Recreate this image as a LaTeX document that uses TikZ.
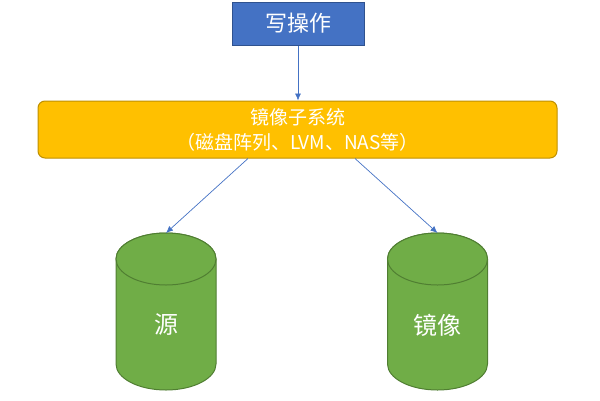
\documentclass[tikz,border=0pt]{standalone}
\usepackage{fontspec}
\setmainfont{Noto Sans CJK SC}
\usetikzlibrary{arrows.meta}

\definecolor{opblue}{HTML}{4472C4}
\definecolor{opblueline}{HTML}{2F528F}
\definecolor{sysgold}{HTML}{FFC000}
\definecolor{sysgoldline}{HTML}{BF9000}
\definecolor{diskgreen}{HTML}{70AD47}
\definecolor{diskgreenline}{HTML}{507E32}

\tikzset{
  link/.style={draw=opblue, line width=0.7pt, -{Latex[length=7pt,width=6pt]}},
  disk/.style={fill=diskgreen, draw=diskgreenline, line width=1pt},
}

\begin{document}
\begin{tikzpicture}[x=1pt, y=-1pt]

    \useasboundingbox (0,0) rectangle (600,400);

    % Define the boxes
    \node[draw=opblueline, fill=opblue, line width=1pt, text=white,
          minimum width=132pt, minimum height=43pt, inner sep=0pt,
          font=\fontsize{22}{24}\selectfont] (write) at (298,23.5) {写操作};

    \node[draw=sysgoldline, fill=sysgold, line width=1pt, rounded corners=7pt,
          text=white, minimum width=519pt, minimum height=57pt, inner sep=0pt,
          align=center, font=\fontsize{19}{25}\selectfont] (mirror) at (297.5,129.5)
          {镜像子系统\\（磁盘阵列、LVM、NAS等）};

    % Define the disk tops
    \coordinate (srctop) at (166,233);
    \coordinate (dsttop) at (437.5,233);

    % Draw the disks
    \foreach \cx in {166,437.5} {
      \draw[disk] (\cx-50,259) -- (\cx-50,364) arc[start angle=180, end angle=360, x radius=50, y radius=-26]
        -- (\cx+50,259) arc[start angle=0, end angle=180, x radius=50, y radius=-26] -- cycle;
      \draw[disk] (\cx,259) ellipse[x radius=50, y radius=26];
    }

    % Label the disks
    \node[text=white, font=\fontsize{24}{26}\selectfont] (src) at (166,325) {源};
    \node[text=white, font=\fontsize{24}{26}\selectfont] (dst) at (437.5,325) {镜像};

    % Draw the arrows
    \draw[link] (write.south) -- (mirror.north -| write.south);
    \draw[link] ([xshift=-49.5pt]mirror.south) -- (srctop);
    \draw[link] ([xshift=57.5pt]mirror.south) -- (dsttop);

\end{tikzpicture}
\end{document}
